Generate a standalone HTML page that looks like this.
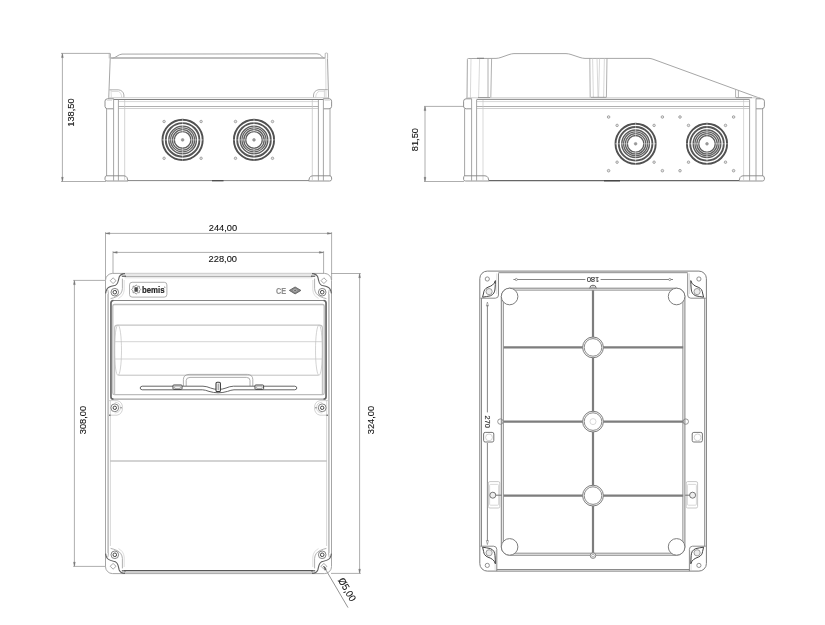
<!DOCTYPE html>
<html><head><meta charset="utf-8"><title>Technical drawing</title>
<style>
html,body{margin:0;padding:0;background:#fff;}
body{width:825px;height:625px;overflow:hidden;}
svg{display:block;will-change:transform;font-family:"Liberation Sans",sans-serif;}
</style></head><body>
<svg width="825" height="625" viewBox="0 0 825 625">
<rect x="0" y="0" width="825" height="625" fill="#fff"/>
<g id="v1">
<line x1="62.4" y1="53.4" x2="62.4" y2="181.4" stroke="#999" stroke-width="0.8"/>
<line x1="61" y1="53.4" x2="110" y2="53.4" stroke="#999" stroke-width="0.8"/>
<line x1="61" y1="181.5" x2="106" y2="181.5" stroke="#999" stroke-width="0.8"/>
<path d="M62.4,53.6 l-0.9,4 h1.8z" stroke="#777" stroke-width="0.4" fill="#777"/>
<path d="M62.4,181.3 l-0.9,-4 h1.8z" stroke="#777" stroke-width="0.4" fill="#777"/>
<text x="74.4" y="112.5" font-size="9.9" text-anchor="middle" font-weight="normal" fill="#111" stroke="#111" stroke-width="0.1" transform="rotate(-90 74.4 112.5)" textLength="28.44" lengthAdjust="spacingAndGlyphs">138,50</text>
<path d="M110.4,53.4 L110.2,59 L108.7,98.6" stroke="#9c9c9c" stroke-width="0.9" fill="none"/>
<line x1="109.2" y1="53.6" x2="109.2" y2="58.4" stroke="#9c9c9c" stroke-width="0.6"/>
<line x1="111" y1="89.8" x2="111.4" y2="98" stroke="#c8c8c8" stroke-width="0.6"/>
<path d="M112.5,58.3 Q115,57.6 117,56.2 Q119.5,54.3 122,54.1 L317,53.8 Q320,54 321.4,55.8 Q322.6,57.6 324,58.2" stroke="#9c9c9c" stroke-width="0.9" fill="none"/>
<line x1="110.6" y1="58.1" x2="325" y2="58.1" stroke="#a8a8a8" stroke-width="1.5"/>
<path d="M325.2,58.5 V53.4 Q326.4,52.6 327.6,53.4 V58.5" stroke="#9c9c9c" stroke-width="0.7" fill="none"/>
<path d="M327.5,58.6 L328.6,98.4" stroke="#9c9c9c" stroke-width="0.9" fill="none"/>
<line x1="325.7" y1="58.6" x2="326" y2="98" stroke="#c8c8c8" stroke-width="0.7"/>
<path d="M109.4,89.8 H118.6 Q123.4,90.6 123.9,95 V98" stroke="#9c9c9c" stroke-width="0.8" fill="none"/>
<path d="M111.4,91.4 H118.5 Q121.4,92.4 121.8,98" stroke="#c8c8c8" stroke-width="0.7" fill="none"/>
<path d="M327.8,89.6 H319 Q314,90.4 313.5,95 V98" stroke="#9c9c9c" stroke-width="0.8" fill="none"/>
<line x1="324.4" y1="89.6" x2="324.4" y2="98" stroke="#c8c8c8" stroke-width="0.7"/>
<path d="M324.4,91.2 H319.4 Q316,92.2 315.6,98" stroke="#c8c8c8" stroke-width="0.7" fill="none"/>
<line x1="108.4" y1="97.7" x2="328.4" y2="97.7" stroke="#d0d0d0" stroke-width="1.0"/>
<line x1="113.6" y1="99.5" x2="323.4" y2="99.5" stroke="#808080" stroke-width="1.0"/>
<line x1="118.4" y1="101.6" x2="318.4" y2="101.6" stroke="#d8d8d8" stroke-width="1.0"/>
<line x1="118.4" y1="106.5" x2="318.4" y2="106.5" stroke="#b0b0b0" stroke-width="1.2"/>
<line x1="118.4" y1="108.5" x2="318.4" y2="108.5" stroke="#d0d0d0" stroke-width="1.0"/>
<path d="M113.6,98.8 H107.4 Q105,99 105,101.2 V106.4 Q105.2,108.8 107.6,108.8 H113.6" stroke="#868686" stroke-width="0.9" fill="none"/>
<path d="M323.4,98.8 H329.4 Q331.6,99 331.6,101.2 V106.4 Q331.4,108.8 329,108.8 H323.4" stroke="#868686" stroke-width="0.9" fill="none"/>
<line x1="106.8" y1="100.4" x2="112" y2="100.4" stroke="#c8c8c8" stroke-width="0.6"/>
<line x1="324.6" y1="100.4" x2="330" y2="100.4" stroke="#c8c8c8" stroke-width="0.6"/>
<line x1="106.6" y1="108.8" x2="106.6" y2="176" stroke="#9c9c9c" stroke-width="0.9"/>
<line x1="113.6" y1="98.6" x2="113.6" y2="180.6" stroke="#9c9c9c" stroke-width="0.9"/>
<line x1="118.4" y1="99.8" x2="118.4" y2="180.6" stroke="#9c9c9c" stroke-width="0.9"/>
<line x1="124.7" y1="100" x2="124.7" y2="180" stroke="#c8c8c8" stroke-width="0.8"/>
<line x1="312.3" y1="100" x2="312.3" y2="180" stroke="#c8c8c8" stroke-width="0.8"/>
<line x1="318.4" y1="99.8" x2="318.4" y2="180.6" stroke="#9c9c9c" stroke-width="0.9"/>
<line x1="323.4" y1="98.6" x2="323.4" y2="180.6" stroke="#9c9c9c" stroke-width="0.9"/>
<line x1="330" y1="108.8" x2="330" y2="176" stroke="#9c9c9c" stroke-width="0.9"/>
<path d="M106.6,175.8 Q105,176 105,178 V179.4 Q105.2,181 107,181 H128 L127,177.6 Q126,175.8 124,175.8 Z" stroke="#868686" stroke-width="0.9" fill="none"/>
<path d="M330,175.8 Q331.6,176 331.6,178 V179.4 Q331.4,181 329.6,181 H308.6 L309.6,177.6 Q310.6,175.8 312.6,175.8 Z" stroke="#868686" stroke-width="0.9" fill="none"/>
<line x1="128" y1="180.6" x2="308.6" y2="180.6" stroke="#777" stroke-width="0.9"/>
<line x1="212" y1="180.8" x2="223.5" y2="180.8" stroke="#333" stroke-width="1.0"/>
<circle cx="182.6" cy="139.9" r="20.1" stroke="#505050" stroke-width="1.9" fill="none"/>
<circle cx="182.6" cy="139.9" r="16.8" stroke="#555" stroke-width="1.9" fill="none"/>
<circle cx="182.6" cy="139.9" r="13.8" stroke="#5c5c5c" stroke-width="1.4" fill="none"/>
<circle cx="182.6" cy="139.9" r="12.0" stroke="#606060" stroke-width="1.3" fill="none"/>
<circle cx="182.6" cy="139.9" r="10.2" stroke="#606060" stroke-width="1.3" fill="none"/>
<circle cx="182.6" cy="139.9" r="8.3" stroke="#5c5c5c" stroke-width="1.4" fill="none"/>
<circle cx="182.6" cy="139.9" r="1.4" stroke="#888" stroke-width="0.5" fill="#999"/>
<line x1="161.6" y1="139.9" x2="175.1" y2="139.9" stroke="#fff" stroke-width="0.4"/>
<line x1="190.1" y1="139.9" x2="203.6" y2="139.9" stroke="#fff" stroke-width="0.4"/>
<line x1="182.6" y1="118.9" x2="182.6" y2="132.4" stroke="#fff" stroke-width="0.4"/>
<line x1="182.6" y1="147.4" x2="182.6" y2="160.9" stroke="#fff" stroke-width="0.4"/>
<circle cx="164.1" cy="121.5" r="1.25" stroke="#8a8a8a" stroke-width="0.7" fill="#e4e4e4"/>
<circle cx="164.1" cy="158.3" r="1.25" stroke="#8a8a8a" stroke-width="0.7" fill="#e4e4e4"/>
<circle cx="201.1" cy="121.5" r="1.25" stroke="#8a8a8a" stroke-width="0.7" fill="#e4e4e4"/>
<circle cx="201.1" cy="158.3" r="1.25" stroke="#8a8a8a" stroke-width="0.7" fill="#e4e4e4"/>
<circle cx="254" cy="139.9" r="20.1" stroke="#505050" stroke-width="1.9" fill="none"/>
<circle cx="254" cy="139.9" r="16.8" stroke="#555" stroke-width="1.9" fill="none"/>
<circle cx="254" cy="139.9" r="13.8" stroke="#5c5c5c" stroke-width="1.4" fill="none"/>
<circle cx="254" cy="139.9" r="12.0" stroke="#606060" stroke-width="1.3" fill="none"/>
<circle cx="254" cy="139.9" r="10.2" stroke="#606060" stroke-width="1.3" fill="none"/>
<circle cx="254" cy="139.9" r="8.3" stroke="#5c5c5c" stroke-width="1.4" fill="none"/>
<circle cx="254" cy="139.9" r="1.4" stroke="#888" stroke-width="0.5" fill="#999"/>
<line x1="233" y1="139.9" x2="246.5" y2="139.9" stroke="#fff" stroke-width="0.4"/>
<line x1="261.5" y1="139.9" x2="275" y2="139.9" stroke="#fff" stroke-width="0.4"/>
<line x1="254" y1="118.9" x2="254" y2="132.4" stroke="#fff" stroke-width="0.4"/>
<line x1="254" y1="147.4" x2="254" y2="160.9" stroke="#fff" stroke-width="0.4"/>
<circle cx="235.5" cy="121.5" r="1.25" stroke="#8a8a8a" stroke-width="0.7" fill="#e4e4e4"/>
<circle cx="235.5" cy="158.3" r="1.25" stroke="#8a8a8a" stroke-width="0.7" fill="#e4e4e4"/>
<circle cx="272.5" cy="121.5" r="1.25" stroke="#8a8a8a" stroke-width="0.7" fill="#e4e4e4"/>
<circle cx="272.5" cy="158.3" r="1.25" stroke="#8a8a8a" stroke-width="0.7" fill="#e4e4e4"/>
</g>
<g id="v2">
<line x1="425" y1="106.4" x2="425" y2="181.4" stroke="#999" stroke-width="0.8"/>
<line x1="424" y1="106.4" x2="464" y2="106.4" stroke="#999" stroke-width="0.8"/>
<line x1="424" y1="181.5" x2="464" y2="181.5" stroke="#999" stroke-width="0.8"/>
<path d="M425,106.6 l-0.9,4 h1.8z" stroke="#777" stroke-width="0.4" fill="#777"/>
<path d="M425,181.3 l-0.9,-4 h1.8z" stroke="#777" stroke-width="0.4" fill="#777"/>
<text x="418.2" y="139.6" font-size="9.9" text-anchor="middle" font-weight="normal" fill="#111" stroke="#111" stroke-width="0.1" transform="rotate(-90 418.2 139.6)" textLength="23.27" lengthAdjust="spacingAndGlyphs">81,50</text>
<path d="M467,98 L467.4,59.4 Q467.5,58.5 468.4,58.5 L496,58.4 Q498.5,58.3 501,57.4 L509,54.6 Q511.6,53.7 514,53.6 L566,53.6 Q568.6,53.7 571,54.5 L580,57.5 Q582.6,58.3 585,58.4 L649,58.4 Q651,58.5 653,59.2 L760.4,98.4" stroke="#9c9c9c" stroke-width="0.9" fill="none"/>
<line x1="471" y1="58.6" x2="470.4" y2="98" stroke="#c8c8c8" stroke-width="0.7"/>
<line x1="479.6" y1="58.6" x2="478.6" y2="98" stroke="#c8c8c8" stroke-width="0.7"/>
<line x1="488" y1="58.6" x2="488" y2="98" stroke="#9c9c9c" stroke-width="0.8"/>
<line x1="491.6" y1="58.6" x2="490.8" y2="98" stroke="#9c9c9c" stroke-width="0.8"/>
<line x1="478" y1="97.5" x2="490" y2="97.5" stroke="#555" stroke-width="1.0"/>
<line x1="477" y1="58.2" x2="484" y2="58.2" stroke="#555" stroke-width="0.6"/>
<line x1="589.8" y1="58.4" x2="590.2" y2="98" stroke="#9c9c9c" stroke-width="0.8"/>
<line x1="592.6" y1="58.4" x2="593.4" y2="98" stroke="#c8c8c8" stroke-width="0.7"/>
<line x1="597" y1="58.4" x2="598" y2="97" stroke="#c8c8c8" stroke-width="0.7"/>
<line x1="599.6" y1="58.4" x2="598.6" y2="97" stroke="#c8c8c8" stroke-width="0.7"/>
<line x1="604.4" y1="58.4" x2="603.6" y2="98" stroke="#c8c8c8" stroke-width="0.7"/>
<line x1="607" y1="58.4" x2="606.4" y2="98" stroke="#9c9c9c" stroke-width="0.8"/>
<line x1="591" y1="97.4" x2="606" y2="97.4" stroke="#555" stroke-width="0.9"/>
<line x1="735.6" y1="89.6" x2="735.6" y2="98" stroke="#9c9c9c" stroke-width="0.8"/>
<line x1="738.4" y1="90.6" x2="738.4" y2="98" stroke="#9c9c9c" stroke-width="0.8"/>
<line x1="736" y1="97.6" x2="752" y2="97.6" stroke="#555" stroke-width="1.0"/>
<line x1="466" y1="97.8" x2="760.4" y2="97.8" stroke="#c8c8c8" stroke-width="0.9"/>
<line x1="476.6" y1="99.4" x2="749.6" y2="99.4" stroke="#8c8c8c" stroke-width="1.0"/>
<line x1="476.6" y1="101.6" x2="749.6" y2="101.6" stroke="#d8d8d8" stroke-width="1.0"/>
<line x1="476.6" y1="106.5" x2="749.6" y2="106.5" stroke="#b0b0b0" stroke-width="1.2"/>
<line x1="476.6" y1="108.5" x2="749.6" y2="108.5" stroke="#d0d0d0" stroke-width="1.0"/>
<path d="M471.6,98.8 H466 Q463.6,99 463.6,101.2 V106.4 Q463.8,108.8 466.2,108.8 H471.6" stroke="#868686" stroke-width="0.9" fill="none"/>
<path d="M756,98.8 H762 Q764.4,99 764.4,101.2 V106.4 Q764.2,108.8 761.8,108.8 H756" stroke="#868686" stroke-width="0.9" fill="none"/>
<line x1="464.6" y1="108.8" x2="464.6" y2="176" stroke="#9c9c9c" stroke-width="0.9"/>
<line x1="471.6" y1="98.6" x2="471.6" y2="180.6" stroke="#9c9c9c" stroke-width="0.9"/>
<line x1="476.6" y1="99.8" x2="476.6" y2="180.6" stroke="#9c9c9c" stroke-width="0.9"/>
<line x1="483" y1="100" x2="483" y2="180" stroke="#c8c8c8" stroke-width="0.7"/>
<line x1="743.6" y1="100" x2="743.6" y2="180" stroke="#c8c8c8" stroke-width="0.7"/>
<line x1="749.6" y1="99.8" x2="749.6" y2="180.6" stroke="#9c9c9c" stroke-width="0.9"/>
<line x1="756" y1="98.6" x2="756" y2="180.6" stroke="#9c9c9c" stroke-width="0.9"/>
<line x1="762.6" y1="108.8" x2="762.6" y2="176" stroke="#9c9c9c" stroke-width="0.9"/>
<path d="M464.6,175.8 Q463.6,176 463.6,178 V179.4 Q463.8,181 465.6,181 H489 L488,177.6 Q487,175.8 485,175.8 Z" stroke="#868686" stroke-width="0.9" fill="none"/>
<path d="M762.6,175.8 Q764.4,176 764.4,178 V179.4 Q764.2,181 762.4,181 H739 L740,177.6 Q741,175.8 743,175.8 Z" stroke="#868686" stroke-width="0.9" fill="none"/>
<line x1="489" y1="180.6" x2="739" y2="180.6" stroke="#666" stroke-width="1.1"/>
<line x1="604" y1="180.9" x2="620" y2="180.9" stroke="#333" stroke-width="1.0"/>
<circle cx="635.6" cy="143.8" r="20.1" stroke="#505050" stroke-width="1.9" fill="none"/>
<circle cx="635.6" cy="143.8" r="16.8" stroke="#555" stroke-width="1.9" fill="none"/>
<circle cx="635.6" cy="143.8" r="13.8" stroke="#5c5c5c" stroke-width="1.4" fill="none"/>
<circle cx="635.6" cy="143.8" r="12.0" stroke="#606060" stroke-width="1.3" fill="none"/>
<circle cx="635.6" cy="143.8" r="10.2" stroke="#606060" stroke-width="1.3" fill="none"/>
<circle cx="635.6" cy="143.8" r="8.3" stroke="#5c5c5c" stroke-width="1.4" fill="none"/>
<circle cx="635.6" cy="143.8" r="1.4" stroke="#888" stroke-width="0.5" fill="#999"/>
<line x1="614.6" y1="143.8" x2="628.1" y2="143.8" stroke="#fff" stroke-width="0.4"/>
<line x1="643.1" y1="143.8" x2="656.6" y2="143.8" stroke="#fff" stroke-width="0.4"/>
<line x1="635.6" y1="122.80000000000001" x2="635.6" y2="136.3" stroke="#fff" stroke-width="0.4"/>
<line x1="635.6" y1="151.3" x2="635.6" y2="164.8" stroke="#fff" stroke-width="0.4"/>
<circle cx="617.1" cy="125.4" r="1.25" stroke="#8a8a8a" stroke-width="0.7" fill="#e4e4e4"/>
<circle cx="617.1" cy="162.20000000000002" r="1.25" stroke="#8a8a8a" stroke-width="0.7" fill="#e4e4e4"/>
<circle cx="654.1" cy="125.4" r="1.25" stroke="#8a8a8a" stroke-width="0.7" fill="#e4e4e4"/>
<circle cx="654.1" cy="162.20000000000002" r="1.25" stroke="#8a8a8a" stroke-width="0.7" fill="#e4e4e4"/>
<circle cx="707" cy="143.8" r="20.1" stroke="#505050" stroke-width="1.9" fill="none"/>
<circle cx="707" cy="143.8" r="16.8" stroke="#555" stroke-width="1.9" fill="none"/>
<circle cx="707" cy="143.8" r="13.8" stroke="#5c5c5c" stroke-width="1.4" fill="none"/>
<circle cx="707" cy="143.8" r="12.0" stroke="#606060" stroke-width="1.3" fill="none"/>
<circle cx="707" cy="143.8" r="10.2" stroke="#606060" stroke-width="1.3" fill="none"/>
<circle cx="707" cy="143.8" r="8.3" stroke="#5c5c5c" stroke-width="1.4" fill="none"/>
<circle cx="707" cy="143.8" r="1.4" stroke="#888" stroke-width="0.5" fill="#999"/>
<line x1="686" y1="143.8" x2="699.5" y2="143.8" stroke="#fff" stroke-width="0.4"/>
<line x1="714.5" y1="143.8" x2="728" y2="143.8" stroke="#fff" stroke-width="0.4"/>
<line x1="707" y1="122.80000000000001" x2="707" y2="136.3" stroke="#fff" stroke-width="0.4"/>
<line x1="707" y1="151.3" x2="707" y2="164.8" stroke="#fff" stroke-width="0.4"/>
<circle cx="688.5" cy="125.4" r="1.25" stroke="#8a8a8a" stroke-width="0.7" fill="#e4e4e4"/>
<circle cx="688.5" cy="162.20000000000002" r="1.25" stroke="#8a8a8a" stroke-width="0.7" fill="#e4e4e4"/>
<circle cx="725.5" cy="125.4" r="1.25" stroke="#8a8a8a" stroke-width="0.7" fill="#e4e4e4"/>
<circle cx="725.5" cy="162.20000000000002" r="1.25" stroke="#8a8a8a" stroke-width="0.7" fill="#e4e4e4"/>
<circle cx="608.6" cy="117" r="1.3" stroke="#8a8a8a" stroke-width="0.7" fill="#e4e4e4"/>
<circle cx="608.6" cy="170.7" r="1.3" stroke="#8a8a8a" stroke-width="0.7" fill="#e4e4e4"/>
<circle cx="662.4" cy="117" r="1.3" stroke="#8a8a8a" stroke-width="0.7" fill="#e4e4e4"/>
<circle cx="662.4" cy="170.7" r="1.3" stroke="#8a8a8a" stroke-width="0.7" fill="#e4e4e4"/>
<circle cx="680" cy="117" r="1.3" stroke="#8a8a8a" stroke-width="0.7" fill="#e4e4e4"/>
<circle cx="680" cy="170.7" r="1.3" stroke="#8a8a8a" stroke-width="0.7" fill="#e4e4e4"/>
<circle cx="733.6" cy="117" r="1.3" stroke="#8a8a8a" stroke-width="0.7" fill="#e4e4e4"/>
<circle cx="733.6" cy="170.7" r="1.3" stroke="#8a8a8a" stroke-width="0.7" fill="#e4e4e4"/>
</g>
<g id="v3">
<line x1="105.5" y1="233.4" x2="331.6" y2="233.4" stroke="#999" stroke-width="0.8"/>
<line x1="105.5" y1="232.2" x2="105.5" y2="279.5" stroke="#999" stroke-width="0.8"/>
<line x1="331.6" y1="232.2" x2="331.6" y2="280" stroke="#999" stroke-width="0.8"/>
<path d="M105.7,233.4 l4,-0.9 v1.8z" stroke="#777" stroke-width="0.4" fill="#777"/>
<path d="M331.4,233.4 l-4,-0.9 v1.8z" stroke="#777" stroke-width="0.4" fill="#777"/>
<text x="223" y="231" font-size="9.9" text-anchor="middle" font-weight="normal" fill="#111" stroke="#111" stroke-width="0.1" textLength="28.44" lengthAdjust="spacingAndGlyphs">244,00</text>
<line x1="113" y1="252.4" x2="323.6" y2="252.4" stroke="#999" stroke-width="0.8"/>
<line x1="113" y1="251.2" x2="113" y2="273.4" stroke="#999" stroke-width="0.8"/>
<line x1="323.6" y1="251.2" x2="323.6" y2="273.4" stroke="#999" stroke-width="0.8"/>
<path d="M113.2,252.4 l4,-0.9 v1.8z" stroke="#777" stroke-width="0.4" fill="#777"/>
<path d="M323.4,252.4 l-4,-0.9 v1.8z" stroke="#777" stroke-width="0.4" fill="#777"/>
<text x="222.8" y="262.2" font-size="9.9" text-anchor="middle" font-weight="normal" fill="#111" stroke="#111" stroke-width="0.1" textLength="28.44" lengthAdjust="spacingAndGlyphs">228,00</text>
<line x1="74.4" y1="280.4" x2="74.4" y2="566.4" stroke="#999" stroke-width="0.8"/>
<line x1="73.2" y1="280.4" x2="105.6" y2="280.4" stroke="#999" stroke-width="0.8"/>
<line x1="73.2" y1="566.4" x2="105.6" y2="566.4" stroke="#999" stroke-width="0.8"/>
<path d="M74.4,280.6 l-0.9,4 h1.8z" stroke="#777" stroke-width="0.4" fill="#777"/>
<path d="M74.4,566.2 l-0.9,-4 h1.8z" stroke="#777" stroke-width="0.4" fill="#777"/>
<text x="86.3" y="420" font-size="9.9" text-anchor="middle" font-weight="normal" fill="#111" stroke="#111" stroke-width="0.1" transform="rotate(-90 86.3 420)" textLength="28.44" lengthAdjust="spacingAndGlyphs">308,00</text>
<line x1="359.6" y1="273.5" x2="359.6" y2="573.4" stroke="#999" stroke-width="0.8"/>
<line x1="331" y1="273.5" x2="360.8" y2="273.5" stroke="#999" stroke-width="0.8"/>
<line x1="331" y1="573.4" x2="360.8" y2="573.4" stroke="#999" stroke-width="0.8"/>
<path d="M359.6,273.7 l-0.9,4 h1.8z" stroke="#777" stroke-width="0.4" fill="#777"/>
<path d="M359.6,573.2 l-0.9,-4 h1.8z" stroke="#777" stroke-width="0.4" fill="#777"/>
<text x="374.3" y="420" font-size="9.9" text-anchor="middle" font-weight="normal" fill="#111" stroke="#111" stroke-width="0.1" transform="rotate(-90 374.3 420)" textLength="28.44" lengthAdjust="spacingAndGlyphs">324,00</text>
<line x1="323.6" y1="566" x2="348" y2="607.6" stroke="#777" stroke-width="0.8"/>
<path d="M323.6,566 l1.2,4.2 l1.6,-0.9z" stroke="#555" stroke-width="0.4" fill="#555"/>
<text x="0" y="0" font-size="9.9" textLength="25.3" lengthAdjust="spacingAndGlyphs" fill="#111" stroke="#111" stroke-width="0.1" transform="translate(337.8,580.3) rotate(59.6)">Ø5,00</text>
<rect x="105.5" y="273.4" width="226" height="300.2" rx="7" stroke="#9c9c9c" stroke-width="0.9" fill="none"/>
<line x1="108.1" y1="294" x2="108.1" y2="553" stroke="#b4b4b4" stroke-width="1.4"/>
<line x1="328.9" y1="294" x2="328.9" y2="553" stroke="#b4b4b4" stroke-width="1.4"/>
<line x1="110.4" y1="400" x2="110.4" y2="546" stroke="#d4d4d4" stroke-width="0.9"/>
<line x1="326.6" y1="400" x2="326.6" y2="546" stroke="#d4d4d4" stroke-width="0.9"/>
<rect x="124.5" y="273.4" width="188" height="5" rx="0" stroke="none" stroke-width="0" fill="#e8e8e8"/>
<line x1="125" y1="276.5" x2="312" y2="276.5" stroke="#b0b0b0" stroke-width="1.1"/>
<line x1="124" y1="570.6" x2="313" y2="570.6" stroke="#555" stroke-width="1.1"/>
<line x1="124" y1="572.2" x2="313" y2="572.2" stroke="#9c9c9c" stroke-width="0.7"/>
<line x1="113" y1="300.5" x2="324" y2="300.5" stroke="#858585" stroke-width="1.0"/>
<line x1="113" y1="399.1" x2="324" y2="399.1" stroke="#a0a0a0" stroke-width="1.4"/>
<path d="M113.4,300.5 Q110.95,300.6 110.95,303 V396.7 Q110.95,399.1 113.4,399.1" stroke="#666" stroke-width="1.7" fill="none"/>
<path d="M323.6,300.5 Q326.05,300.6 326.05,303 V396.7 Q326.05,399.1 323.6,399.1" stroke="#666" stroke-width="1.7" fill="none"/>
<rect x="112.8" y="304.5" width="211.4" height="90.2" rx="1.6" stroke="#bdbdbd" stroke-width="1.3" fill="none"/>
<path d="M114.6,394.6 V327.8 Q114.8,325.2 117.4,325.2 H319.6 Q322.2,325.2 322.4,327.8 V394.6" stroke="#c4c4c4" stroke-width="1.2" fill="none"/>
<line x1="114.8" y1="341.7" x2="322.2" y2="341.7" stroke="#d0d0d0" stroke-width="0.9"/>
<line x1="114.8" y1="359" x2="322.2" y2="359" stroke="#d0d0d0" stroke-width="0.9"/>
<line x1="118.4" y1="375.2" x2="318.6" y2="375.2" stroke="#c0c0c0" stroke-width="1.0"/>
<ellipse cx="118" cy="350.2" rx="3.5" ry="25.2" stroke="#c0c0c0" stroke-width="0.7" fill="none"/>
<ellipse cx="319" cy="350.2" rx="3.5" ry="25.2" stroke="#c0c0c0" stroke-width="0.7" fill="none"/>
<path d="M183.4,386 V379.4 Q183.6,374.6 189,374.4 H247.4 Q252.6,374.6 252.8,379.4 V386" stroke="#999" stroke-width="0.8" fill="none"/>
<path d="M186.2,386 V380.4 Q186.4,377.4 190,377.4 H246.4 Q250,377.4 250,380.4 V386" stroke="#999" stroke-width="0.8" fill="none"/>
<path d="M142.2,386.2 H203 Q207,386.4 210.5,388 Q214,389.4 218.2,389.4 Q222.5,389.4 226,388 Q229.5,386.4 233.5,386.2 H294.8 Q296.8,386.4 296.8,388 Q296.8,389.6 294.8,389.8 H234 Q231,390 227.5,391.4 Q223,392.8 218.2,392.8 Q213.5,392.8 209,391.4 Q205.5,390 202.5,389.8 H142.2 Q140.2,389.6 140.2,388 Q140.2,386.4 142.2,386.2Z" stroke="#555" stroke-width="0.9" fill="#fff"/>
<rect x="173" y="385" width="9" height="4.4" rx="0.8" stroke="#444" stroke-width="1.0" fill="#fff"/>
<rect x="174.6" y="386.2" width="5.8" height="2.2" rx="0.3" stroke="#777" stroke-width="0.6" fill="none"/>
<rect x="255" y="385" width="8.6" height="4.4" rx="0.8" stroke="#444" stroke-width="1.0" fill="#fff"/>
<rect x="256.6" y="386.2" width="5.6" height="2.2" rx="0.3" stroke="#777" stroke-width="0.6" fill="none"/>
<rect x="216" y="382.2" width="4.4" height="9.4" rx="1.2" stroke="#3c3c3c" stroke-width="1.1" fill="#fff"/>
<line x1="218.2" y1="383.6" x2="218.2" y2="390.2" stroke="#666" stroke-width="0.8"/>
<path d="M109,400.6 H117.0 Q122.5,401.6 122.5,407.8 Q122.5,414 117.0,415.2 H109" stroke="#c8c8c8" stroke-width="0.8" fill="none"/>
<path d="M114.8,402.2 Q120.39999999999999,402.6 120.39999999999999,407.6 Q120.39999999999999,412.8 114.8,413" stroke="#c8c8c8" stroke-width="0.7" fill="none"/>
<circle cx="114.8" cy="407.8" r="3.9" stroke="#666" stroke-width="0.8" fill="#fff"/>
<circle cx="114.8" cy="407.8" r="1.7" stroke="#444" stroke-width="1.0" fill="none"/>
<line x1="120.39999999999999" y1="407.8" x2="121.8" y2="407.8" stroke="#666" stroke-width="1.0"/>
<line x1="109" y1="415.2" x2="110.6" y2="415.2" stroke="#555" stroke-width="1"/>
<path d="M328,400.6 H320.0 Q314.5,401.6 314.5,407.8 Q314.5,414 320.0,415.2 H328" stroke="#c8c8c8" stroke-width="0.8" fill="none"/>
<path d="M322.2,402.2 Q316.59999999999997,402.6 316.59999999999997,407.6 Q316.59999999999997,412.8 322.2,413" stroke="#c8c8c8" stroke-width="0.7" fill="none"/>
<circle cx="322.2" cy="407.8" r="3.9" stroke="#666" stroke-width="0.8" fill="#fff"/>
<circle cx="322.2" cy="407.8" r="1.7" stroke="#444" stroke-width="1.0" fill="none"/>
<line x1="316.59999999999997" y1="407.8" x2="315.2" y2="407.8" stroke="#666" stroke-width="1.0"/>
<line x1="328" y1="415.2" x2="326.4" y2="415.2" stroke="#555" stroke-width="1"/>
<line x1="110" y1="461" x2="327" y2="461" stroke="#c4c4c4" stroke-width="1.3"/>
<g transform="">
<path d="M113.1,277.8 L116,280.7 L113.1,283.6 L110.2,280.7 Z" stroke="#909090" stroke-width="0.8" fill="none"/>
<path d="M125,273.6 C121.5,273.8 120,275 119.2,277 L118.2,281 C117.6,284 116,285.4 113.6,285.8 C110.5,286.4 108.4,287 107,289 C106.2,290.4 105.8,291.8 105.6,293.4" stroke="#606060" stroke-width="1.1" fill="none"/>
<line x1="121.8" y1="276.2" x2="126" y2="276.2" stroke="#555" stroke-width="1.2"/>
<path d="M122.4,278.6 V288.6 Q122,294 117.2,296.4 Q113,298.2 110.6,298.6" stroke="#9c9c9c" stroke-width="0.8" fill="none"/>
<path d="M124.2,280 V290 Q123.6,296 118.4,298.4" stroke="#c8c8c8" stroke-width="0.6" fill="none"/>
<path d="M107.6,289.4 Q108.3,291 108.4,294" stroke="#9c9c9c" stroke-width="0.8" fill="none"/>
<circle cx="114.8" cy="292.2" r="3.8" stroke="#666" stroke-width="0.8" fill="none"/>
<circle cx="114.8" cy="292.2" r="1.8" stroke="#444" stroke-width="1.0" fill="none"/>
</g>
<g transform="translate(437,0) scale(-1,1)">
<path d="M113.1,277.8 L116,280.7 L113.1,283.6 L110.2,280.7 Z" stroke="#909090" stroke-width="0.8" fill="none"/>
<path d="M125,273.6 C121.5,273.8 120,275 119.2,277 L118.2,281 C117.6,284 116,285.4 113.6,285.8 C110.5,286.4 108.4,287 107,289 C106.2,290.4 105.8,291.8 105.6,293.4" stroke="#606060" stroke-width="1.1" fill="none"/>
<line x1="121.8" y1="276.2" x2="126" y2="276.2" stroke="#555" stroke-width="1.2"/>
<path d="M122.4,278.6 V288.6 Q122,294 117.2,296.4 Q113,298.2 110.6,298.6" stroke="#9c9c9c" stroke-width="0.8" fill="none"/>
<path d="M124.2,280 V290 Q123.6,296 118.4,298.4" stroke="#c8c8c8" stroke-width="0.6" fill="none"/>
<path d="M107.6,289.4 Q108.3,291 108.4,294" stroke="#9c9c9c" stroke-width="0.8" fill="none"/>
<circle cx="114.8" cy="292.2" r="3.8" stroke="#666" stroke-width="0.8" fill="none"/>
<circle cx="114.8" cy="292.2" r="1.8" stroke="#444" stroke-width="1.0" fill="none"/>
</g>
<g transform="translate(0,847) scale(1,-1)">
<path d="M113.1,277.8 L116,280.7 L113.1,283.6 L110.2,280.7 Z" stroke="#909090" stroke-width="0.8" fill="none"/>
<path d="M125,273.6 C121.5,273.8 120,275 119.2,277 L118.2,281 C117.6,284 116,285.4 113.6,285.8 C110.5,286.4 108.4,287 107,289 C106.2,290.4 105.8,291.8 105.6,293.4" stroke="#606060" stroke-width="1.1" fill="none"/>
<line x1="121.8" y1="276.2" x2="126" y2="276.2" stroke="#555" stroke-width="1.2"/>
<path d="M122.4,278.6 V288.6 Q122,294 117.2,296.4 Q113,298.2 110.6,298.6" stroke="#9c9c9c" stroke-width="0.8" fill="none"/>
<path d="M124.2,280 V290 Q123.6,296 118.4,298.4" stroke="#c8c8c8" stroke-width="0.6" fill="none"/>
<path d="M107.6,289.4 Q108.3,291 108.4,294" stroke="#9c9c9c" stroke-width="0.8" fill="none"/>
<circle cx="114.8" cy="292.2" r="3.8" stroke="#666" stroke-width="0.8" fill="none"/>
<circle cx="114.8" cy="292.2" r="1.8" stroke="#444" stroke-width="1.0" fill="none"/>
</g>
<g transform="translate(437,847) scale(-1,-1)">
<path d="M113.1,277.8 L116,280.7 L113.1,283.6 L110.2,280.7 Z" stroke="#909090" stroke-width="0.8" fill="none"/>
<path d="M125,273.6 C121.5,273.8 120,275 119.2,277 L118.2,281 C117.6,284 116,285.4 113.6,285.8 C110.5,286.4 108.4,287 107,289 C106.2,290.4 105.8,291.8 105.6,293.4" stroke="#606060" stroke-width="1.1" fill="none"/>
<line x1="121.8" y1="276.2" x2="126" y2="276.2" stroke="#555" stroke-width="1.2"/>
<path d="M122.4,278.6 V288.6 Q122,294 117.2,296.4 Q113,298.2 110.6,298.6" stroke="#9c9c9c" stroke-width="0.8" fill="none"/>
<path d="M124.2,280 V290 Q123.6,296 118.4,298.4" stroke="#c8c8c8" stroke-width="0.6" fill="none"/>
<path d="M107.6,289.4 Q108.3,291 108.4,294" stroke="#9c9c9c" stroke-width="0.8" fill="none"/>
<circle cx="114.8" cy="292.2" r="3.8" stroke="#666" stroke-width="0.8" fill="none"/>
<circle cx="114.8" cy="292.2" r="1.8" stroke="#444" stroke-width="1.0" fill="none"/>
</g>
<rect x="129.5" y="282.3" width="37.4" height="14.8" rx="2.6" stroke="#9c9c9c" stroke-width="0.8" fill="none"/>
<path d="M136.20,285.00 L137.54,286.27 L139.38,286.32 L139.43,288.16 L140.70,289.50 L139.43,290.84 L139.38,292.68 L137.54,292.73 L136.20,294.00 L134.86,292.73 L133.02,292.68 L132.97,290.84 L131.70,289.50 L132.97,288.16 L133.02,286.32 L134.86,286.27 Z" stroke="#6a6a6a" stroke-width="0.7" fill="none"/>
<rect x="134.7" y="287.5" width="3" height="4" rx="0.3" stroke="#444" stroke-width="0.5" fill="#4a4a4a"/>
<text x="142" y="292.9" font-size="8.8" font-weight="bold" fill="#222" stroke="#222" stroke-width="0.15" textLength="22.6" lengthAdjust="spacingAndGlyphs">bemis</text>
<line x1="164.6" y1="286.6" x2="165" y2="288" stroke="#444" stroke-width="0.6"/>
<text x="276" y="293.6" font-size="9.4" font-weight="bold" fill="#8c8c8c" stroke="#8c8c8c" stroke-width="0.1" textLength="10.2" lengthAdjust="spacingAndGlyphs">CE</text>
<path d="M289.4,290.4 L295.1,287 L300.9,290.4 L295.1,293.9 Z" stroke="#606060" stroke-width="0.9" fill="#8a8a8a"/>
<path d="M293,290.4 L295.1,289.2 L297.2,290.4 L295.1,291.6 Z" stroke="#ccc" stroke-width="0.6" fill="#666"/>
</g>
<g id="v4">
<rect x="479.8" y="271.1" width="226.6" height="300" rx="7.5" stroke="#7d7d7d" stroke-width="1.0" fill="none"/>
<line x1="498.5" y1="272.7" x2="687.7" y2="272.7" stroke="#7d7d7d" stroke-width="0.9"/>
<line x1="496.8" y1="569.5" x2="689.4" y2="569.5" stroke="#7d7d7d" stroke-width="0.9"/>
<line x1="481.5" y1="298.2" x2="481.5" y2="546.2" stroke="#7d7d7d" stroke-width="0.9"/>
<line x1="704.7" y1="298.2" x2="704.7" y2="546.2" stroke="#7d7d7d" stroke-width="0.9"/>
<rect x="501.3" y="288.2" width="183.6" height="267" rx="8.3" stroke="#7d7d7d" stroke-width="1.0" fill="none"/>
<rect x="503.3" y="290.1" width="179.6" height="263.1" rx="3" stroke="#7d7d7d" stroke-width="0.9" fill="none"/>
<line x1="503.6" y1="347.4" x2="683.2" y2="347.4" stroke="#7d7d7d" stroke-width="2.2"/>
<line x1="503.6" y1="421.6" x2="683.2" y2="421.6" stroke="#7d7d7d" stroke-width="2.2"/>
<line x1="503.6" y1="495.6" x2="683.2" y2="495.6" stroke="#7d7d7d" stroke-width="2.2"/>
<line x1="593" y1="290.2" x2="593" y2="553.4" stroke="#7d7d7d" stroke-width="2.2"/>
<circle cx="593" cy="347.4" r="10.4" stroke="#7d7d7d" stroke-width="1.0" fill="#fff"/>
<circle cx="593" cy="347.4" r="8.8" stroke="#7d7d7d" stroke-width="0.9" fill="#fff"/>
<circle cx="593" cy="421.6" r="10.4" stroke="#7d7d7d" stroke-width="1.0" fill="#fff"/>
<circle cx="593" cy="421.6" r="8.8" stroke="#7d7d7d" stroke-width="0.9" fill="#fff"/>
<circle cx="593" cy="495.6" r="10.4" stroke="#7d7d7d" stroke-width="1.0" fill="#fff"/>
<circle cx="593" cy="495.6" r="8.8" stroke="#7d7d7d" stroke-width="0.9" fill="#fff"/>
<circle cx="593" cy="421.6" r="3" stroke="#c8c8c8" stroke-width="0.7" fill="none"/>
<circle cx="509.6" cy="296.5" r="8.3" stroke="#7d7d7d" stroke-width="1.0" fill="#fff"/>
<circle cx="509.6" cy="546.9" r="8.3" stroke="#7d7d7d" stroke-width="1.0" fill="#fff"/>
<circle cx="676.6" cy="296.5" r="8.3" stroke="#7d7d7d" stroke-width="1.0" fill="#fff"/>
<circle cx="676.6" cy="546.9" r="8.3" stroke="#7d7d7d" stroke-width="1.0" fill="#fff"/>
<path d="M589.8,288.4 A3.2,3.2 0 0 1 596.2,288.4" stroke="#666" stroke-width="1.0" fill="none"/>
<path d="M591.5,288.4 A1.5,1.5 0 0 1 594.5,288.4" stroke="#777" stroke-width="0.7" fill="none"/>
<circle cx="593" cy="555.6" r="2.8" stroke="#7d7d7d" stroke-width="0.9" fill="#fff"/>
<circle cx="593" cy="555.6" r="1.4" stroke="#7d7d7d" stroke-width="0.6" fill="none"/>
<circle cx="500.4" cy="421.6" r="2.7" stroke="#7d7d7d" stroke-width="0.8" fill="none"/>
<circle cx="685.8" cy="421.6" r="2.7" stroke="#7d7d7d" stroke-width="0.8" fill="none"/>
<line x1="513.4" y1="279.5" x2="585.4" y2="279.5" stroke="#666" stroke-width="0.8"/>
<line x1="600.6" y1="279.5" x2="673" y2="279.5" stroke="#666" stroke-width="0.8"/>
<circle cx="516.3" cy="279.5" r="1.1" stroke="#666" stroke-width="0.6" fill="#fff"/>
<circle cx="669.8" cy="279.5" r="1.1" stroke="#666" stroke-width="0.6" fill="#fff"/>
<text x="593" y="279.4" font-size="7.4" text-anchor="middle" font-weight="normal" fill="#222" stroke="#222" stroke-width="0.1" transform="rotate(180 593 279.4)" dominant-baseline="central">180</text>
<line x1="487.4" y1="305" x2="487.4" y2="412.4" stroke="#666" stroke-width="0.8"/>
<line x1="487.4" y1="443" x2="487.4" y2="541" stroke="#666" stroke-width="0.8"/>
<path d="M487.4,302 l-1.1,4 h2.2z" stroke="#666" stroke-width="0.5" fill="none"/>
<path d="M487.4,544.6 l-1.1,-4 h2.2z" stroke="#666" stroke-width="0.5" fill="none"/>
<text x="487.6" y="421.8" font-size="7.4" text-anchor="middle" font-weight="normal" fill="#222" stroke="#222" stroke-width="0.1" transform="rotate(90 487.6 421.8)" dominant-baseline="central">270</text>
<rect x="483.6" y="432.4" width="10.2" height="9.6" rx="1.6" stroke="#666" stroke-width="0.9" fill="none"/>
<circle cx="489.0" cy="437.4" r="3.4" stroke="#c8c8c8" stroke-width="0.8" fill="none"/>
<rect x="692.2" y="432.4" width="10.2" height="9.6" rx="1.6" stroke="#666" stroke-width="0.9" fill="none"/>
<circle cx="697.6" cy="437.4" r="3.4" stroke="#c8c8c8" stroke-width="0.8" fill="none"/>
<rect x="488.4" y="481.6" width="11.4" height="26.4" rx="1.5" stroke="#c8c8c8" stroke-width="1.0" fill="none"/>
<rect x="489.59999999999997" y="484.4" width="9" height="20.8" rx="1" stroke="#c8c8c8" stroke-width="0.7" fill="none"/>
<circle cx="492.8" cy="495.2" r="3" stroke="#666" stroke-width="0.9" fill="#eee"/>
<rect x="686.2" y="481.6" width="11.4" height="26.4" rx="1.5" stroke="#c8c8c8" stroke-width="1.0" fill="none"/>
<rect x="687.4000000000001" y="484.4" width="9" height="20.8" rx="1" stroke="#c8c8c8" stroke-width="0.7" fill="none"/>
<circle cx="692.6" cy="495.2" r="3" stroke="#666" stroke-width="0.9" fill="#eee"/>
<line x1="495.8" y1="495.2" x2="501.6" y2="495.2" stroke="#666" stroke-width="0.9"/>
<line x1="685.2" y1="495.2" x2="689.6" y2="495.2" stroke="#666" stroke-width="0.9"/>
<g transform="">
<path d="M480.4,298.2 H495.4 Q498.5,298 498.5,295 V273.3" stroke="#7d7d7d" stroke-width="0.9" fill="none"/>
<line x1="496.8" y1="273.4" x2="496.8" y2="294" stroke="#c8c8c8" stroke-width="0.6"/>
<circle cx="487.3" cy="279" r="2.1" stroke="#777" stroke-width="0.8" fill="none"/>
<path d="M495.4,280.6 C494.4,284.6 491,286.2 488,287.2 C485,288.4 483.8,290.6 483.6,293 L482.6,297.2 C485,296.6 488,296.6 490.4,295.8 C493.6,294.6 494.8,292 495,289 C495.3,286 495.4,283 495.4,280.6 Z" stroke="#444" stroke-width="1.0" fill="none"/>
<circle cx="489.1" cy="291.6" r="3.1" stroke="#888" stroke-width="0.8" fill="#ececec"/>
</g>
<g transform="translate(1186.2,0) scale(-1,1)">
<path d="M480.4,298.2 H495.4 Q498.5,298 498.5,295 V273.3" stroke="#7d7d7d" stroke-width="0.9" fill="none"/>
<line x1="496.8" y1="273.4" x2="496.8" y2="294" stroke="#c8c8c8" stroke-width="0.6"/>
<circle cx="487.3" cy="279" r="2.1" stroke="#777" stroke-width="0.8" fill="none"/>
<path d="M495.4,280.6 C494.4,284.6 491,286.2 488,287.2 C485,288.4 483.8,290.6 483.6,293 L482.6,297.2 C485,296.6 488,296.6 490.4,295.8 C493.6,294.6 494.8,292 495,289 C495.3,286 495.4,283 495.4,280.6 Z" stroke="#444" stroke-width="1.0" fill="none"/>
<circle cx="489.1" cy="291.6" r="3.1" stroke="#888" stroke-width="0.8" fill="#ececec"/>
</g>
<g transform="translate(0,844.4) scale(1,-1)">
<path d="M480.4,298.2 H493.7 Q496.8,298 496.8,295 V273.3" stroke="#7d7d7d" stroke-width="0.9" fill="none"/>
<line x1="495.1" y1="273.4" x2="495.1" y2="294" stroke="#c8c8c8" stroke-width="0.6"/>
<circle cx="487.3" cy="279" r="2.1" stroke="#777" stroke-width="0.8" fill="none"/>
<path d="M495.4,280.6 C494.4,284.6 491,286.2 488,287.2 C485,288.4 483.8,290.6 483.6,293 L482.6,297.2 C485,296.6 488,296.6 490.4,295.8 C493.6,294.6 494.8,292 495,289 C495.3,286 495.4,283 495.4,280.6 Z" stroke="#444" stroke-width="1.0" fill="none"/>
<circle cx="489.1" cy="291.6" r="3.1" stroke="#888" stroke-width="0.8" fill="#ececec"/>
</g>
<g transform="translate(1186.2,844.4) scale(-1,-1)">
<path d="M480.4,298.2 H493.7 Q496.8,298 496.8,295 V273.3" stroke="#7d7d7d" stroke-width="0.9" fill="none"/>
<line x1="495.1" y1="273.4" x2="495.1" y2="294" stroke="#c8c8c8" stroke-width="0.6"/>
<circle cx="487.3" cy="279" r="2.1" stroke="#777" stroke-width="0.8" fill="none"/>
<path d="M495.4,280.6 C494.4,284.6 491,286.2 488,287.2 C485,288.4 483.8,290.6 483.6,293 L482.6,297.2 C485,296.6 488,296.6 490.4,295.8 C493.6,294.6 494.8,292 495,289 C495.3,286 495.4,283 495.4,280.6 Z" stroke="#444" stroke-width="1.0" fill="none"/>
<circle cx="489.1" cy="291.6" r="3.1" stroke="#888" stroke-width="0.8" fill="#ececec"/>
</g>
</g>
</svg>
</body></html>
